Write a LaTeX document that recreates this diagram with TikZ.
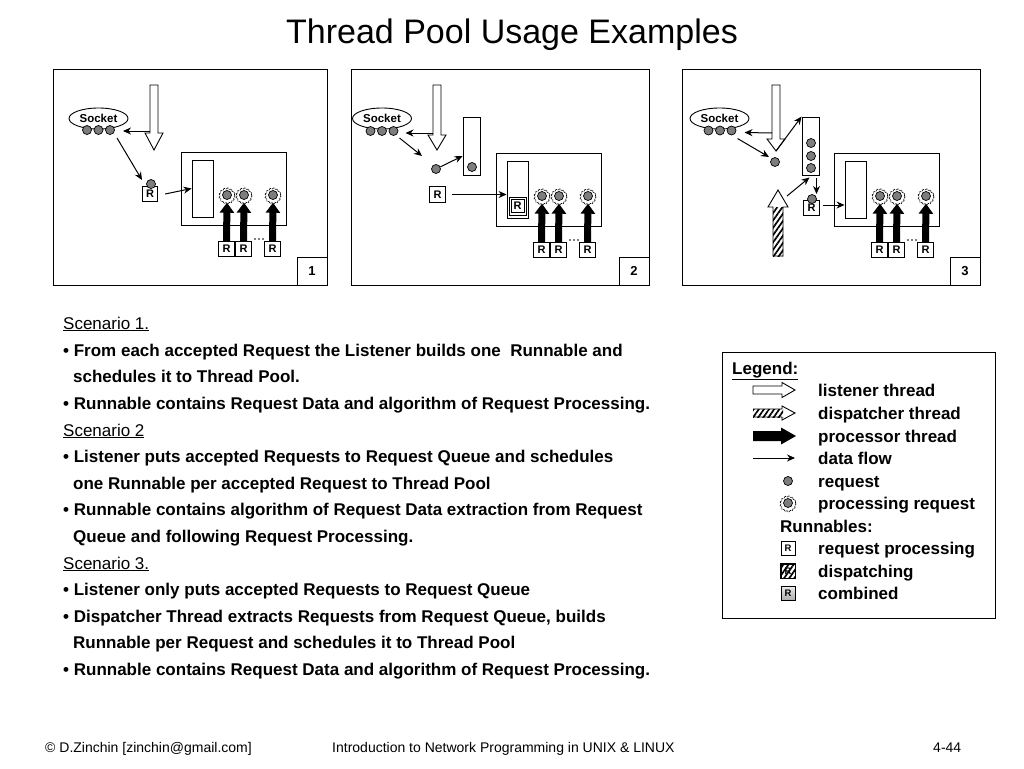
\documentclass[tikz,border=0pt]{standalone}
\usepackage{fontspec}
\setmainfont{Liberation Sans}
\usetikzlibrary{arrows.meta,patterns.meta,decorations.pathmorphing,shapes.geometric}
\definecolor{dotgray}{RGB}{125,125,125}
\tikzset{
  panel/.style={draw,line width=1pt},
  numbox/.style={draw,line width=1pt,minimum width=30pt,minimum height=28pt,inner sep=0pt,font=\bfseries\fontsize{13}{13}\selectfont},
  rbox/.style={draw,fill=white,line width=0.8pt,minimum width=15.5pt,minimum height=15.5pt,inner sep=0pt,font=\bfseries\fontsize{11}{11}\selectfont},
  lrbox/.style={draw,line width=0.8pt,minimum width=14pt,minimum height=14pt,inner sep=0pt,font=\bfseries\fontsize{9.5}{9.5}\selectfont},
  req/.style={circle,draw,fill=dotgray,line width=0.7pt,minimum size=9pt,inner sep=0pt},
  sock/.style={ellipse,draw,line width=0.9pt,minimum width=59pt,minimum height=21pt,inner sep=0pt,font=\bfseries\fontsize{11.5}{11.5}\selectfont},
  queue/.style={draw,line width=0.9pt,fill=white,inner sep=0pt},
  poolbox/.style={draw,line width=1pt},
  flow/.style={line width=1pt,-{Stealth[length=8pt,width=7pt]}},
  procarrow/.style={line width=7pt,-{Triangle[length=10pt,width=14pt]}},
  blockw/.style={draw,line width=0.9pt,fill=white},
  ring/.style={line width=0.6pt,decorate,decoration={snake,amplitude=0.6pt,segment length=3.6pt},dash pattern=on 3pt off 0.8pt},
  hatch/.style={pattern={Lines[angle=55,distance=4.2pt,line width=1.7pt]}},
  body/.style={anchor=base west,inner sep=0pt,font=\bfseries\fontsize{17}{17}\selectfont},
  bodyr/.style={anchor=base west,inner sep=0pt,font=\fontsize{17}{17}\selectfont},
  legtxt/.style={anchor=base west,inner sep=0pt,font=\bfseries\fontsize{17}{17}\selectfont},
  foot/.style={anchor=base west,inner sep=0pt,font=\fontsize{14}{14}\selectfont},
}
\newcommand{\procreq}[2]{%
  \node[circle,minimum size=15pt,inner sep=0pt] (#1) at (#2) {};
  \draw[ring] (#1.center) circle (7.5);
  \node[req] at (#1.center) {};}
\newcommand{\poolgrp}[3]{%
  \begin{scope}[shift={(#2,#3)}]
    \draw[poolbox] (0,0) rectangle (105,73);
    \node[queue,minimum width=21pt,minimum height=57pt] (#1q) at (21.5,36.5) {};
    \procreq{#1p1}{46,43}
    \procreq{#1p2}{63,43}
    \procreq{#1p3}{92,43}
    \node[rbox] (#1b1) at (45.5,97) {R};
    \node[rbox] (#1b2) at (62.5,97) {R};
    \node[rbox] (#1b3) at (91.5,97) {R};
    \draw[procarrow] (#1b1.north) -- (#1p1.south);
    \draw[procarrow] (#1b2.north) -- (#1p2.south);
    \draw[procarrow] (#1b3.north) -- (#1p3.south);
    \fill (74,87) circle (0.9) (78,87) circle (0.9) (82,87) circle (0.9);
  \end{scope}}
\begin{document}
\begin{tikzpicture}[x=1pt,y=-1pt]
\useasboundingbox (0,0) rectangle (1024,768);
\fill[white] (0,0) rectangle (1024,768);
\node[font=\fontsize{34}{34}\selectfont] (title) at (512,35) {Thread Pool Usage Examples};

% ---------------- Panel 1
\draw[panel] (53,69) rectangle (327,285);
\node[numbox] (n1) at (312,271) {1};
\node[sock] (s1) at (98.5,118.5) {Socket};
\node[req] (s1d1) at (87,130) {};
\node[req] (s1d2) at (98.5,130) {};
\node[req] (s1d3) at (110,130) {};
\draw[blockw] (150,85) -- (158,85) -- (158,133) -- (163,133) -- (154,150) -- (145,133) -- (150,133) -- cycle;
\coordinate (l1) at (150,131);
\draw[flow] (l1) -- ([shift={(13,1)}]s1d3.center);
\poolgrp{a}{181}{152}
\node[rbox] (r1) at (150,194) {R};
\node[req] (r1d) at (151,184) {};
\draw[flow] ([shift={(7,8)}]s1d3.center) -- ([shift={(-8,-14)}]r1.center);
\draw[flow] ([xshift=7pt]r1.east) -- (aq.west);

% ---------------- Panel 2
\draw[panel] (351,69) rectangle (649,285);
\node[numbox] (n2) at (634,271) {2};
\node[sock] (s2) at (382,118.5) {Socket};
\node[req] (s2d1) at (370.5,131) {};
\node[req] (s2d2) at (382,131) {};
\node[req] (s2d3) at (393.5,131) {};
\draw[blockw] (433,85) -- (441,85) -- (441,135) -- (446,135) -- (437,150) -- (428,135) -- (433,135) -- cycle;
\coordinate (l2) at (433,133);
\draw[flow] (l2) -- ([shift={(12,2)}]s2d3.center);
\node[queue,minimum width=17pt,minimum height=58pt] (rq2) at (471.5,146) {};
\node[req] (rq2d) at (472,167) {};
\node[req] (m2) at (436,169) {};
\draw[flow] (m2) -- ([yshift=-10pt]rq2.west);
\draw[flow] ([shift={(6,7)}]s2d3.center) -- ([shift={(-14,-13)}]m2.center);
\poolgrp{b}{496}{153}
\draw[line width=0.8pt] (509,197) rectangle (526,215);
\node[rbox,minimum width=13pt,minimum height=13pt] (bqr) at (517.5,206) {R};
\node[rbox] (r2) at (437.5,194.5) {R};
\draw[flow] ([xshift=6pt]r2.east) -- (bq.west |- r2.east);

% ---------------- Panel 3
\draw[panel] (682,69) rectangle (980,285);
\node[numbox] (n3) at (965,271) {3};
\node[sock] (s3) at (719.5,118.5) {Socket};
\node[req] (s3d1) at (708.5,130.5) {};
\node[req] (s3d2) at (720,130.5) {};
\node[req] (s3d3) at (731.5,130.5) {};
\draw[blockw] (772,85) -- (780,85) -- (780,139) -- (785,139) -- (776,151) -- (767,139) -- (772,139) -- cycle;
\coordinate (l3) at (772,133);
\coordinate (l3tip) at (776,151);
\draw[flow] (l3) -- ([shift={(13,2)}]s3d3.center);
\node[req] (m3) at (775,162) {};
\draw[flow] ([shift={(6,8)}]s3d3.center) -- ([shift={(-6,-5)}]m3.center);
\node[queue,minimum width=17pt,minimum height=58pt] (rq3) at (810.5,146) {};
\node[req] (rq3d1) at (811,143) {};
\node[req] (rq3d2) at (811,156) {};
\node[req] (rq3d3) at (811,168) {};
\draw[flow] (l3tip) -- (rq3.north west);
% dispatcher arrow
\fill[white] (773,207) rectangle (783,256);
\fill[hatch] (773,207) rectangle (783,256);
\draw[line width=0.9pt] (773,256) -- (773,207) -- (768,207) -- (778,190) -- (788,207) -- (783,207) -- (783,256) -- cycle;
\coordinate (d3) at (787,196);
\draw[flow] (d3) -- ([shift={(-1,2)}]rq3.south);
\node[rbox] (r3) at (811.5,208) {R};
\node[req] (r3d) at (812,199) {};
\draw[flow] ([shift={(6,3)}]rq3.south) -- ([shift={(4.5,-5)}]r3d.center);
\poolgrp{c}{834}{153}
\draw[flow] ([shift={(3,-3)}]r3.east) -- (cq.west |- {0,205});

% ---------------- Text
\node[bodyr] (h1) at (63,329) {\underline{Scenario 1.}};
\node[body] (t1) at (63,356) {• From each accepted Request the Listener builds one\ \ Runnable and};
\node[body] (t2) at (73,382.5) {schedules it to Thread Pool.};
\node[body] (t3) at (63,409) {• Runnable contains Request Data and algorithm of Request Processing.};
\node[bodyr] (h2) at (63,436) {\underline{Scenario 2}};
\node[body] (t4) at (63,462.5) {• Listener puts accepted Requests to Request Queue and schedules};
\node[body] (t5) at (73,489) {one Runnable per accepted Request to Thread Pool};
\node[body] (t6) at (63,515.5) {• Runnable contains algorithm of Request Data extraction from Request};
\node[body] (t7) at (73,542) {Queue and following Request Processing.};
\node[bodyr] (h3) at (63,569) {\underline{Scenario 3.}};
\node[body] (t8) at (63,595.5) {• Listener only puts accepted Requests to Request Queue};
\node[body] (t9) at (63,622) {• Dispatcher Thread extracts Requests from Request Queue, builds};
\node[body] (t10) at (73,648.5) {Runnable per Request and schedules it to Thread Pool};
\node[body] (t11) at (63,675) {• Runnable contains Request Data and algorithm of Request Processing.};

% ---------------- Legend
\draw[line width=1pt] (722,352) rectangle (995,618);
\node[legtxt] (lg) at (732,374) {\underline{Legend:}};
% listener
\draw[blockw] (753,386) -- (782,386) -- (782,382.5) -- (795,390) -- (782,397.5) -- (782,394) -- (753,394) -- cycle;
\node[legtxt] (lt1) at (818,396) {listener thread};
% dispatcher
\fill[white] (753,409) rectangle (783,417);
\fill[hatch] (753,409) rectangle (783,417);
\draw[line width=0.9pt] (753,409) -- (782,409) -- (782,406) -- (795,413) -- (782,420) -- (782,417) -- (753,417);
\node[legtxt] (lt2) at (818,419) {dispatcher thread};
% processor
\fill (753,431) -- (781,431) -- (781,427.5) -- (796,436) -- (781,444.5) -- (781,441) -- (753,441) -- cycle;
\node[legtxt] (lt3) at (818,442) {processor thread};
% data flow
\coordinate (lf1) at (753,458);
\coordinate (lf2) at (795,458);
\draw[flow] (lf1) -- (lf2);
\node[legtxt] (lt4) at (818,464) {data flow};
\node[req] (lreq) at (788,481) {};
\node[legtxt] (lt5) at (818,487) {request};
\procreq{lpr}{788,503}
\node[legtxt] (lt6) at (818,509) {processing request};
\node[legtxt] (lt7) at (780,532) {Runnables:};
\node[lrbox] (lb1) at (788,548) {R};
\node[legtxt] (lt8) at (818,554) {request processing};
\node[lrbox,fill=white] (lb2) at (788,571) {R};
\fill[hatch] (lb2.south west) rectangle (lb2.north east);
\draw[line width=0.8pt] (lb2.south west) rectangle (lb2.north east);
\node[legtxt] (lt9) at (818,577) {dispatching};
\node[lrbox,top color=gray!15,bottom color=gray!65] (lb3) at (788,593) {R};
\node[legtxt] (lt10) at (818,599) {combined};

% ---------------- Footer
\node[foot] (f1) at (45,752) {© D.Zinchin [zinchin@gmail.com]};
\node[foot] (f2) at (332,752) {Introduction to Network Programming in UNIX \& LINUX};
\node[foot] (f3) at (933,752) {4-44};
\end{tikzpicture}
\end{document}
